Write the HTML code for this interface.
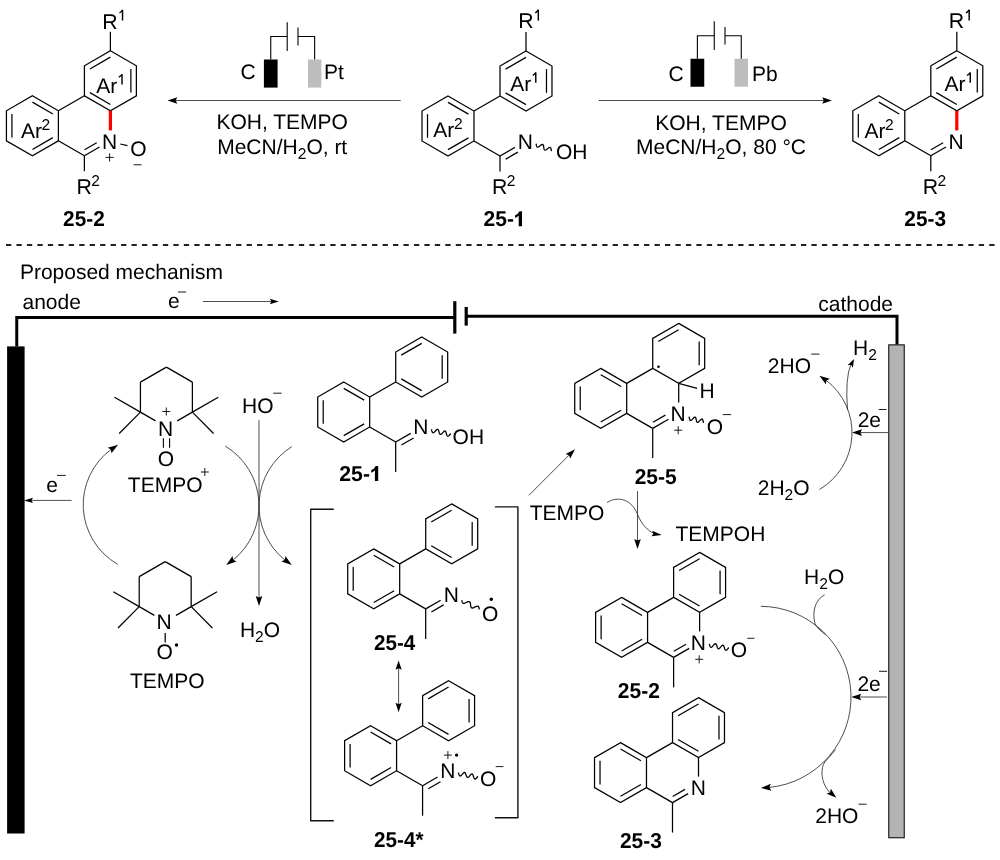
<!DOCTYPE html>
<html><head><meta charset="utf-8"><style>
html,body{margin:0;padding:0;background:#fff;}
svg{display:block;}
text{font-family:"Liberation Sans", sans-serif;text-rendering:geometricPrecision;}
</style></head><body>
<div style="will-change:transform;width:1000px;height:860px"><svg width="1000" height="860" viewBox="0 0 1000 860">
<rect width="1000" height="860" fill="#fff"/>
<polygon points="110.4,50.8 136.38,65.8 136.38,95.8 110.4,110.8 84.42,95.8 84.42,65.8" fill="none" stroke="#000" stroke-width="1.25" stroke-linejoin="miter"/>
<line x1="89.94" y1="68.96" x2="110.38" y2="57.16" stroke="#000" stroke-width="1.25" stroke-linecap="butt"/>
<line x1="130.88" y1="69" x2="130.88" y2="92.6" stroke="#000" stroke-width="1.25" stroke-linecap="butt"/>
<line x1="110.38" y1="104.44" x2="89.94" y2="92.64" stroke="#000" stroke-width="1.25" stroke-linecap="butt"/>
<polygon points="32.4,95.8 58.38,110.8 58.38,140.8 32.4,155.8 6.42,140.8 6.42,110.8" fill="none" stroke="#000" stroke-width="1.25" stroke-linejoin="miter"/>
<line x1="11.92" y1="137.6" x2="11.92" y2="114" stroke="#000" stroke-width="1.25" stroke-linecap="butt"/>
<line x1="32.42" y1="102.16" x2="52.86" y2="113.96" stroke="#000" stroke-width="1.25" stroke-linecap="butt"/>
<line x1="52.86" y1="137.64" x2="32.42" y2="149.44" stroke="#000" stroke-width="1.25" stroke-linecap="butt"/>
<line x1="58.38" y1="110.8" x2="84.42" y2="95.8" stroke="#000" stroke-width="1.25" stroke-linecap="butt"/>
<line x1="58.38" y1="140.8" x2="84.4" y2="155.8" stroke="#000" stroke-width="1.25" stroke-linecap="butt"/>
<line x1="84.4" y1="155.8" x2="99.57" y2="147.05" stroke="#000" stroke-width="1.25" stroke-linecap="butt"/>
<line x1="84.49" y1="149.75" x2="96.71" y2="142.69" stroke="#000" stroke-width="1.25" stroke-linecap="butt"/>
<line x1="110.4" y1="110.8" x2="110.4" y2="130.4" stroke="#ff0000" stroke-width="3.2" stroke-linecap="butt"/>
<line x1="84.4" y1="155.8" x2="84.4" y2="171.2" stroke="#000" stroke-width="1.25" stroke-linecap="butt"/>
<line x1="110.4" y1="50.8" x2="110.4" y2="31.8" stroke="#000" stroke-width="1.25" stroke-linecap="butt"/>
<text x="102.25" y="28.6" font-size="21.3" text-anchor="start" font-weight="normal" fill="#000">R</text>
<line x1="122.53" y1="9.8" x2="122.53" y2="20.5" stroke="#000" stroke-width="1.45" stroke-linecap="butt"/>
<path d="M122.53,10 Q121.33,12 119.5,12.87" fill="none" stroke="#000" stroke-width="1.3775" stroke-linecap="butt"/>
<text x="76.45" y="194" font-size="21.3" text-anchor="start" font-weight="normal" fill="#000">R</text>
<text x="91.22" y="185.79" font-size="15.6" text-anchor="start" font-weight="normal" fill="#000">2</text>
<text x="96.21" y="92.5" font-size="21" text-anchor="start" font-weight="normal" fill="#000">Ar</text>
<line x1="122.03" y1="74.2" x2="122.03" y2="84.5" stroke="#000" stroke-width="1.45" stroke-linecap="butt"/>
<path d="M122.03,74.4 Q120.83,76.31 118.75,77.15" fill="none" stroke="#000" stroke-width="1.3775" stroke-linecap="butt"/>
<text x="20.96" y="138.25" font-size="21" text-anchor="start" font-weight="normal" fill="#000">Ar</text>
<text x="41.47" y="130.14" font-size="15.6" text-anchor="start" font-weight="normal" fill="#000">2</text>
<text x="102.03" y="148.9" font-size="21" text-anchor="start" font-weight="normal" fill="#000">N</text>
<line x1="105.5" y1="157.4" x2="113.7" y2="157.4" stroke="#000" stroke-width="0.9" stroke-linecap="butt"/>
<line x1="109.6" y1="153.3" x2="109.6" y2="161.5" stroke="#000" stroke-width="0.9" stroke-linecap="butt"/>
<line x1="120.25" y1="144" x2="127.5" y2="145.7" stroke="#000" stroke-width="1.25" stroke-linecap="butt"/>
<text x="130.34" y="156" font-size="21" text-anchor="start" font-weight="normal" fill="#000">O</text>
<line x1="133.6" y1="164.8" x2="141.6" y2="164.8" stroke="#000" stroke-width="0.9" stroke-linecap="butt"/>
<text transform="translate(63.08,226.05) scale(0.9680,1)" x="0" y="0" font-size="21.5" font-weight="bold">25-2</text>
<polygon points="526,51 551.98,66 551.98,96 526,111 500.02,96 500.02,66" fill="none" stroke="#000" stroke-width="1.25" stroke-linejoin="miter"/>
<line x1="505.54" y1="69.16" x2="525.98" y2="57.36" stroke="#000" stroke-width="1.25" stroke-linecap="butt"/>
<line x1="546.48" y1="69.2" x2="546.48" y2="92.8" stroke="#000" stroke-width="1.25" stroke-linecap="butt"/>
<line x1="525.98" y1="104.64" x2="505.54" y2="92.84" stroke="#000" stroke-width="1.25" stroke-linecap="butt"/>
<polygon points="448,96 473.98,111 473.98,141 448,156 422.02,141 422.02,111" fill="none" stroke="#000" stroke-width="1.25" stroke-linejoin="miter"/>
<line x1="427.52" y1="137.8" x2="427.52" y2="114.2" stroke="#000" stroke-width="1.25" stroke-linecap="butt"/>
<line x1="448.02" y1="102.36" x2="468.46" y2="114.16" stroke="#000" stroke-width="1.25" stroke-linecap="butt"/>
<line x1="468.46" y1="137.84" x2="448.02" y2="149.64" stroke="#000" stroke-width="1.25" stroke-linecap="butt"/>
<line x1="473.98" y1="111" x2="500.02" y2="96" stroke="#000" stroke-width="1.25" stroke-linecap="butt"/>
<line x1="473.98" y1="141" x2="499.98" y2="156" stroke="#000" stroke-width="1.25" stroke-linecap="butt"/>
<line x1="499.98" y1="156" x2="514.89" y2="147.4" stroke="#000" stroke-width="1.25" stroke-linecap="butt"/>
<line x1="505.72" y1="159.15" x2="517.87" y2="152.15" stroke="#000" stroke-width="1.25" stroke-linecap="butt"/>
<line x1="499.98" y1="156" x2="499.98" y2="171.5" stroke="#000" stroke-width="1.25" stroke-linecap="butt"/>
<line x1="526" y1="51" x2="526" y2="32" stroke="#000" stroke-width="1.25" stroke-linecap="butt"/>
<text x="518.25" y="28.45" font-size="21.3" text-anchor="start" font-weight="normal" fill="#000">R</text>
<line x1="538.32" y1="9.6" x2="538.32" y2="20.6" stroke="#000" stroke-width="1.45" stroke-linecap="butt"/>
<path d="M538.32,9.8 Q537.12,11.86 535.2,12.76" fill="none" stroke="#000" stroke-width="1.3775" stroke-linecap="butt"/>
<text x="492.05" y="194" font-size="21.3" text-anchor="start" font-weight="normal" fill="#000">R</text>
<text x="506.82" y="185.79" font-size="15.6" text-anchor="start" font-weight="normal" fill="#000">2</text>
<text x="510.21" y="91" font-size="21" text-anchor="start" font-weight="normal" fill="#000">Ar</text>
<line x1="535.77" y1="72.45" x2="535.77" y2="82.75" stroke="#000" stroke-width="1.45" stroke-linecap="butt"/>
<path d="M535.77,72.65 Q534.57,74.56 532.75,75.4" fill="none" stroke="#000" stroke-width="1.3775" stroke-linecap="butt"/>
<text x="433.21" y="136.75" font-size="21" text-anchor="start" font-weight="normal" fill="#000">Ar</text>
<text x="453.97" y="128.64" font-size="15.6" text-anchor="start" font-weight="normal" fill="#000">2</text>
<text x="517.78" y="148.5" font-size="21" text-anchor="start" font-weight="normal" fill="#000">N</text>
<path d="M536.2,144.18 L536.28,144.71 L536.37,145.23 L536.48,145.72 L536.6,146.16 L536.75,146.53 L536.93,146.82 L537.14,147.03 L537.39,147.14 L537.67,147.17 L537.99,147.1 L538.35,146.95 L538.72,146.74 L539.13,146.47 L539.54,146.15 L539.97,145.82 L540.39,145.49 L540.81,145.17 L541.21,144.9 L541.59,144.67 L541.95,144.52 L542.27,144.45 L542.56,144.46 L542.81,144.57 L543.03,144.76 L543.21,145.05 L543.36,145.41 L543.49,145.84 L543.59,146.33 L543.68,146.85 L543.77,147.38 L543.86,147.91 L543.95,148.42 L544.06,148.88 L544.2,149.29 L544.36,149.63 L544.55,149.88 L544.78,150.05 L545.05,150.12 L545.35,150.1 L545.69,150 L546.05,149.81 L546.44,149.57 L546.85,149.28 L547.27,148.95 L547.7,148.62 L548.12,148.29 L548.53,147.99 L548.92,147.74 L549.29,147.55 L549.63,147.43 L549.94,147.4 L550.21,147.45 L550.45,147.6 L550.65,147.84 L550.82,148.16 L550.96,148.56 L551.07,149.02 L551.17,149.52 L551.26,150.05 L551.34,150.58" fill="none" stroke="#000" stroke-width="1.3" stroke-linecap="round" stroke-linejoin="round"/>
<text x="556.01" y="159.3" font-size="21" text-anchor="start" font-weight="normal" fill="#000">OH</text>
<text transform="translate(483.52,226.15) scale(0.9772,1)" x="0" y="0" font-size="21.5" font-weight="bold">25-</text>
<path d="M518.7,226.25 L522,226.25 L522,211.25 L519.52,211.25 Q518.1,214.25 515.16,215.3 L515.16,218 Q517.2,216.95 518.7,215.45 Z" fill="#000"/>
<polygon points="956.8,50.8 982.78,65.8 982.78,95.8 956.8,110.8 930.82,95.8 930.82,65.8" fill="none" stroke="#000" stroke-width="1.25" stroke-linejoin="miter"/>
<line x1="936.34" y1="68.96" x2="956.78" y2="57.16" stroke="#000" stroke-width="1.25" stroke-linecap="butt"/>
<line x1="977.28" y1="69" x2="977.28" y2="92.6" stroke="#000" stroke-width="1.25" stroke-linecap="butt"/>
<line x1="956.78" y1="104.44" x2="936.34" y2="92.64" stroke="#000" stroke-width="1.25" stroke-linecap="butt"/>
<polygon points="878.8,95.8 904.78,110.8 904.78,140.8 878.8,155.8 852.82,140.8 852.82,110.8" fill="none" stroke="#000" stroke-width="1.25" stroke-linejoin="miter"/>
<line x1="858.32" y1="137.6" x2="858.32" y2="114" stroke="#000" stroke-width="1.25" stroke-linecap="butt"/>
<line x1="878.82" y1="102.16" x2="899.26" y2="113.96" stroke="#000" stroke-width="1.25" stroke-linecap="butt"/>
<line x1="899.26" y1="137.64" x2="878.82" y2="149.44" stroke="#000" stroke-width="1.25" stroke-linecap="butt"/>
<line x1="904.78" y1="110.8" x2="930.82" y2="95.8" stroke="#000" stroke-width="1.25" stroke-linecap="butt"/>
<line x1="904.78" y1="140.8" x2="930.8" y2="155.8" stroke="#000" stroke-width="1.25" stroke-linecap="butt"/>
<line x1="930.8" y1="155.8" x2="945.97" y2="147.05" stroke="#000" stroke-width="1.25" stroke-linecap="butt"/>
<line x1="930.89" y1="149.75" x2="943.11" y2="142.69" stroke="#000" stroke-width="1.25" stroke-linecap="butt"/>
<line x1="956.8" y1="110.8" x2="956.8" y2="130.4" stroke="#ff0000" stroke-width="3.2" stroke-linecap="butt"/>
<line x1="930.8" y1="155.8" x2="930.8" y2="171.2" stroke="#000" stroke-width="1.25" stroke-linecap="butt"/>
<line x1="956.8" y1="50.8" x2="956.8" y2="31.8" stroke="#000" stroke-width="1.25" stroke-linecap="butt"/>
<text x="948.65" y="28.45" font-size="21.3" text-anchor="start" font-weight="normal" fill="#000">R</text>
<line x1="969.17" y1="9.7" x2="969.17" y2="20.4" stroke="#000" stroke-width="1.45" stroke-linecap="butt"/>
<path d="M969.17,9.9 Q967.97,11.9 965.9,12.77" fill="none" stroke="#000" stroke-width="1.3775" stroke-linecap="butt"/>
<text x="922.85" y="194" font-size="21.3" text-anchor="start" font-weight="normal" fill="#000">R</text>
<text x="937.62" y="185.79" font-size="15.6" text-anchor="start" font-weight="normal" fill="#000">2</text>
<text x="944.46" y="91" font-size="21" text-anchor="start" font-weight="normal" fill="#000">Ar</text>
<line x1="970.27" y1="72.45" x2="970.27" y2="82.75" stroke="#000" stroke-width="1.45" stroke-linecap="butt"/>
<path d="M970.27,72.65 Q969.07,74.56 967,75.4" fill="none" stroke="#000" stroke-width="1.3775" stroke-linecap="butt"/>
<text x="864.56" y="138.15" font-size="21" text-anchor="start" font-weight="normal" fill="#000">Ar</text>
<text x="885.12" y="130.14" font-size="15.6" text-anchor="start" font-weight="normal" fill="#000">2</text>
<text x="948.48" y="148.6" font-size="21" text-anchor="start" font-weight="normal" fill="#000">N</text>
<text transform="translate(904.32,226.15) scale(0.9675,1)" x="0" y="0" font-size="21.5" font-weight="bold">25-3</text>
<line x1="400.7" y1="100.5" x2="175.2" y2="100.5" stroke="#3a3a3a" stroke-width="0.9" stroke-linecap="butt"/>
<polygon points="167.5,100.5 177.3,97.3 175.7,100.5 177.3,103.7" fill="#000"/>
<line x1="598.7" y1="100.5" x2="824.3" y2="100.5" stroke="#3a3a3a" stroke-width="0.9" stroke-linecap="butt"/>
<polygon points="832,100.5 822.2,103.7 823.8,100.5 822.2,97.3" fill="#000"/>
<rect x="263.9" y="59.5" width="13.7" height="28.1" fill="#000"/>
<rect x="308" y="59.5" width="13.3" height="28.1" fill="#bdbdbd"/>
<polyline points="270.75,59.5 270.75,36.5 287.2,36.5" fill="none" stroke="#000" stroke-width="1.1" stroke-linejoin="miter"/>
<line x1="287.2" y1="22.3" x2="287.2" y2="51.1" stroke="#000" stroke-width="1.1" stroke-linecap="butt"/>
<line x1="298" y1="27.6" x2="298" y2="45.6" stroke="#000" stroke-width="1.1" stroke-linecap="butt"/>
<polyline points="298,36.5 314.65,36.5 314.65,59.5" fill="none" stroke="#000" stroke-width="1.1" stroke-linejoin="miter"/>
<text x="240.53" y="79.2" font-size="21" text-anchor="start" font-weight="normal" fill="#000">C</text>
<text x="323.88" y="79.2" font-size="21" text-anchor="start" font-weight="normal" fill="#000">Pt</text>
<rect x="690.5" y="58.75" width="13.75" height="28" fill="#000"/>
<rect x="734.5" y="58.75" width="13.5" height="28" fill="#bdbdbd"/>
<polyline points="697.38,58.75 697.38,35.75 714.25,35.75" fill="none" stroke="#000" stroke-width="1.1" stroke-linejoin="miter"/>
<line x1="714.25" y1="21.25" x2="714.25" y2="50" stroke="#000" stroke-width="1.1" stroke-linecap="butt"/>
<line x1="725" y1="27" x2="725" y2="44.5" stroke="#000" stroke-width="1.1" stroke-linecap="butt"/>
<polyline points="725,35.75 741.25,35.75 741.25,58.75" fill="none" stroke="#000" stroke-width="1.1" stroke-linejoin="miter"/>
<text x="668.43" y="80.5" font-size="21" text-anchor="start" font-weight="normal" fill="#000">C</text>
<text x="752.03" y="80.5" font-size="21" text-anchor="start" font-weight="normal" fill="#000">Pb</text>
<text x="282.2" y="129" font-size="21" text-anchor="middle" font-weight="normal" fill="#000">KOH, TEMPO</text>
<text x="282.2" y="153.6" font-size="21" text-anchor="middle" font-weight="normal" fill="#000">MeCN/H<tspan font-size="15.6" dy="5">2</tspan><tspan dy="-5">O, rt</tspan></text>
<text x="721" y="129.5" font-size="21" text-anchor="middle" font-weight="normal" fill="#000">KOH, TEMPO</text>
<text x="721" y="154" font-size="21" text-anchor="middle" font-weight="normal" fill="#000">MeCN/H<tspan font-size="15.6" dy="5">2</tspan><tspan dy="-5">O, 80 °C</tspan></text>
<line x1="6" y1="245" x2="995" y2="245" stroke="#222" stroke-width="1.9" stroke-dasharray="5.3 5.16"/>
<text x="19.88" y="279.4" font-size="21" text-anchor="start" font-weight="normal" fill="#000">Proposed mechanism</text>
<text x="22.51" y="309.4" font-size="21" text-anchor="start" font-weight="normal" fill="#000">anode</text>
<text x="168.01" y="308.3" font-size="21" text-anchor="start" font-weight="normal" fill="#000">e</text>
<line x1="178" y1="292" x2="186.1" y2="292" stroke="#000" stroke-width="0.9" stroke-linecap="butt"/>
<line x1="202.9" y1="301.5" x2="271.9" y2="301.5" stroke="#3a3a3a" stroke-width="0.9" stroke-linecap="butt"/>
<polygon points="278.8,301.5 269.8,304.3 271.4,301.5 269.8,298.7" fill="#000"/>
<text x="818.31" y="310.8" font-size="21" text-anchor="start" font-weight="normal" fill="#000">cathode</text>
<polyline points="16.75,346.6 16.75,317.5 454.8,317.5" fill="none" stroke="#000" stroke-width="3" stroke-linejoin="miter"/>
<line x1="454.8" y1="301.2" x2="454.8" y2="333.6" stroke="#000" stroke-width="3.2" stroke-linecap="butt"/>
<line x1="466.2" y1="307" x2="466.2" y2="325.6" stroke="#000" stroke-width="3.2" stroke-linecap="butt"/>
<polyline points="466.2,316.2 897,316.2 897,344.5" fill="none" stroke="#000" stroke-width="3" stroke-linejoin="miter"/>
<rect x="7.1" y="346.4" width="17.5" height="487.1" fill="#000"/>
<rect x="888.75" y="344.85" width="15.5" height="492.9" fill="#b3b3b3" stroke="#111" stroke-width="1.1"/>
<line x1="140.42" y1="382.1" x2="166.4" y2="367.1" stroke="#000" stroke-width="1.25" stroke-linecap="butt"/>
<line x1="166.4" y1="367.1" x2="192.38" y2="382.1" stroke="#000" stroke-width="1.25" stroke-linecap="butt"/>
<line x1="192.38" y1="382.1" x2="192.38" y2="412.1" stroke="#000" stroke-width="1.25" stroke-linecap="butt"/>
<line x1="140.42" y1="412.1" x2="140.42" y2="382.1" stroke="#000" stroke-width="1.25" stroke-linecap="butt"/>
<line x1="192.38" y1="412.1" x2="177.23" y2="420.85" stroke="#000" stroke-width="1.25" stroke-linecap="butt"/>
<line x1="140.42" y1="412.1" x2="155.57" y2="420.85" stroke="#000" stroke-width="1.25" stroke-linecap="butt"/>
<line x1="192.38" y1="412.1" x2="218.28" y2="397.3" stroke="#000" stroke-width="1.25" stroke-linecap="butt"/>
<line x1="192.38" y1="412.1" x2="213.58" y2="433.5" stroke="#000" stroke-width="1.25" stroke-linecap="butt"/>
<line x1="140.42" y1="412.1" x2="114.52" y2="397.3" stroke="#000" stroke-width="1.25" stroke-linecap="butt"/>
<line x1="140.42" y1="412.1" x2="119.22" y2="433.5" stroke="#000" stroke-width="1.25" stroke-linecap="butt"/>
<text x="158.08" y="435.6" font-size="21" text-anchor="start" font-weight="normal" fill="#000">N</text>
<line x1="162.3" y1="411.5" x2="170.3" y2="411.5" stroke="#000" stroke-width="0.9" stroke-linecap="butt"/>
<line x1="166.3" y1="407.5" x2="166.3" y2="415.5" stroke="#000" stroke-width="0.9" stroke-linecap="butt"/>
<line x1="163.4" y1="438.3" x2="163.4" y2="447.8" stroke="#000" stroke-width="1.1" stroke-linecap="butt"/>
<line x1="169.6" y1="438.3" x2="169.6" y2="447.8" stroke="#000" stroke-width="1.1" stroke-linecap="butt"/>
<text x="157.71" y="465.5" font-size="21" text-anchor="start" font-weight="normal" fill="#000">O</text>
<text x="127.83" y="491.7" font-size="21" text-anchor="start" font-weight="normal" fill="#000">TEMPO</text>
<line x1="200.8" y1="472" x2="208.8" y2="472" stroke="#000" stroke-width="0.9" stroke-linecap="butt"/>
<line x1="204.8" y1="468" x2="204.8" y2="476" stroke="#000" stroke-width="0.9" stroke-linecap="butt"/>
<line x1="139.22" y1="576.6" x2="165.2" y2="561.6" stroke="#000" stroke-width="1.25" stroke-linecap="butt"/>
<line x1="165.2" y1="561.6" x2="191.18" y2="576.6" stroke="#000" stroke-width="1.25" stroke-linecap="butt"/>
<line x1="191.18" y1="576.6" x2="191.18" y2="606.6" stroke="#000" stroke-width="1.25" stroke-linecap="butt"/>
<line x1="139.22" y1="606.6" x2="139.22" y2="576.6" stroke="#000" stroke-width="1.25" stroke-linecap="butt"/>
<line x1="191.18" y1="606.6" x2="176.03" y2="615.35" stroke="#000" stroke-width="1.25" stroke-linecap="butt"/>
<line x1="139.22" y1="606.6" x2="154.37" y2="615.35" stroke="#000" stroke-width="1.25" stroke-linecap="butt"/>
<line x1="191.18" y1="606.6" x2="217.08" y2="591.8" stroke="#000" stroke-width="1.25" stroke-linecap="butt"/>
<line x1="191.18" y1="606.6" x2="212.38" y2="628" stroke="#000" stroke-width="1.25" stroke-linecap="butt"/>
<line x1="139.22" y1="606.6" x2="113.32" y2="591.8" stroke="#000" stroke-width="1.25" stroke-linecap="butt"/>
<line x1="139.22" y1="606.6" x2="118.02" y2="628" stroke="#000" stroke-width="1.25" stroke-linecap="butt"/>
<text x="156.48" y="629.4" font-size="21" text-anchor="start" font-weight="normal" fill="#000">N</text>
<line x1="165.2" y1="633" x2="165.2" y2="642.4" stroke="#000" stroke-width="1.25" stroke-linecap="butt"/>
<text x="156.61" y="659.4" font-size="21" text-anchor="start" font-weight="normal" fill="#000">O</text>
<circle cx="176.5" cy="645" r="1.7" fill="#000"/>
<text x="130.03" y="687.5" font-size="21" text-anchor="start" font-weight="normal" fill="#000">TEMPO</text>
<text x="46.31" y="492.2" font-size="21" text-anchor="start" font-weight="normal" fill="#000">e</text>
<line x1="57" y1="475.4" x2="65.8" y2="475.4" stroke="#000" stroke-width="0.9" stroke-linecap="butt"/>
<line x1="71.6" y1="500.4" x2="30.9" y2="500.4" stroke="#3a3a3a" stroke-width="0.9" stroke-linecap="butt"/>
<polygon points="24,500.4 33,497.7 31.4,500.4 33,503.1" fill="#000"/>
<path d="M117.6,564.28 A68.8,68.8 0 0 1 111.16,449.33" fill="none" stroke="#3a3a3a" stroke-width="0.9"/>
<polygon points="118.12,444.82 111.45,453.37 110.97,449.6 107.67,447.72" fill="#000"/>
<path d="M225.2,446.06 A69.7,69.7 0 0 1 233,560.1" fill="none" stroke="#3a3a3a" stroke-width="0.9"/>
<polygon points="226.24,564.91 232.53,556.08 233.17,559.83 236.55,561.56" fill="#000"/>
<path d="M291.76,446.69 A69.7,69.7 0 0 0 285,560.1" fill="none" stroke="#3a3a3a" stroke-width="0.9"/>
<polygon points="291.76,564.91 281.45,561.56 284.83,559.83 285.47,556.08" fill="#000"/>
<line x1="259" y1="420.2" x2="259" y2="598.1" stroke="#3a3a3a" stroke-width="0.9" stroke-linecap="butt"/>
<polygon points="259,606 255.7,596 259,597.6 262.3,596" fill="#000"/>
<text x="242.08" y="412.6" font-size="21" text-anchor="start" font-weight="normal" fill="#000">HO</text>
<line x1="273.2" y1="393.2" x2="281.6" y2="393.2" stroke="#000" stroke-width="0.9" stroke-linecap="butt"/>
<text x="239.88" y="637.1" font-size="21" text-anchor="start" font-weight="normal" fill="#000">H<tspan font-size="15.6" dy="5">2</tspan><tspan dy="-5">O</tspan></text>
<polygon points="421.7,337 447.68,352 447.68,382 421.7,397 395.72,382 395.72,352" fill="none" stroke="#000" stroke-width="1.25" stroke-linejoin="miter"/>
<line x1="401.24" y1="355.16" x2="421.68" y2="343.36" stroke="#000" stroke-width="1.25" stroke-linecap="butt"/>
<line x1="442.18" y1="355.2" x2="442.18" y2="378.8" stroke="#000" stroke-width="1.25" stroke-linecap="butt"/>
<line x1="421.68" y1="390.64" x2="401.24" y2="378.84" stroke="#000" stroke-width="1.25" stroke-linecap="butt"/>
<polygon points="343.7,382 369.68,397 369.68,427 343.7,442 317.72,427 317.72,397" fill="none" stroke="#000" stroke-width="1.25" stroke-linejoin="miter"/>
<line x1="323.22" y1="423.8" x2="323.22" y2="400.2" stroke="#000" stroke-width="1.25" stroke-linecap="butt"/>
<line x1="343.72" y1="388.36" x2="364.16" y2="400.16" stroke="#000" stroke-width="1.25" stroke-linecap="butt"/>
<line x1="364.16" y1="423.84" x2="343.72" y2="435.64" stroke="#000" stroke-width="1.25" stroke-linecap="butt"/>
<line x1="369.68" y1="397" x2="395.72" y2="382" stroke="#000" stroke-width="1.25" stroke-linecap="butt"/>
<line x1="369.68" y1="427" x2="395.68" y2="442" stroke="#000" stroke-width="1.25" stroke-linecap="butt"/>
<line x1="395.68" y1="442" x2="395.68" y2="472" stroke="#000" stroke-width="1.25" stroke-linecap="butt"/>
<line x1="395.68" y1="442" x2="410.68" y2="433.35" stroke="#000" stroke-width="1.25" stroke-linecap="butt"/>
<line x1="401.37" y1="445.06" x2="413.6" y2="438.01" stroke="#000" stroke-width="1.25" stroke-linecap="butt"/>
<text x="413.28" y="434" font-size="21" text-anchor="start" font-weight="normal" fill="#000">N</text>
<path d="M431.54,429.77 L431.72,430.42 L431.91,431.05 L432.1,431.63 L432.32,432.12 L432.57,432.48 L432.85,432.71 L433.17,432.78 L433.52,432.7 L433.9,432.48 L434.31,432.13 L434.74,431.7 L435.19,431.21 L435.63,430.71 L436.07,430.24 L436.5,429.83 L436.9,429.52 L437.27,429.34 L437.61,429.31 L437.92,429.44 L438.18,429.71 L438.42,430.12 L438.63,430.64 L438.83,431.24 L439.01,431.89 L439.19,432.53 L439.39,433.13 L439.6,433.65 L439.84,434.06 L440.1,434.34 L440.41,434.47 L440.75,434.44 L441.12,434.26 L441.52,433.96 L441.94,433.55 L442.38,433.08 L442.83,432.58 L443.28,432.09 L443.71,431.65 L444.12,431.31 L444.5,431.08 L444.85,431 L445.17,431.07 L445.45,431.29 L445.7,431.66 L445.92,432.14 L446.12,432.72 L446.3,433.35 L446.49,434 L446.67,434.62 L446.88,435.17 L447.11,435.63 L447.36,435.95 L447.65,436.13 L447.98,436.16 L448.34,436.03 L448.73,435.77 L449.15,435.4 L449.58,434.94 L450.03,434.45 L450.48,433.95" fill="none" stroke="#000" stroke-width="1.3" stroke-linecap="round" stroke-linejoin="round"/>
<text x="452.61" y="443.8" font-size="21" text-anchor="start" font-weight="normal" fill="#000">OH</text>
<text transform="translate(339.3,480.9) scale(0.9879,1)" x="0" y="0" font-size="21.5" font-weight="bold">25-</text>
<path d="M374.9,481 L378.2,481 L378.2,466 L375.72,466 Q374.3,469 371.28,470.05 L371.28,472.75 Q373.4,471.7 374.9,470.2 Z" fill="#000"/>
<polyline points="333.3,509.2 310.7,509.2 310.7,820.7 333.3,820.7" fill="none" stroke="#111" stroke-width="1.4" stroke-linejoin="round" stroke-linecap="round"/>
<polyline points="495.4,506.9 517.9,506.9 517.9,817.8 495.4,817.8" fill="none" stroke="#111" stroke-width="1.4" stroke-linejoin="round" stroke-linecap="round"/>
<polygon points="451.7,503.9 477.68,518.9 477.68,548.9 451.7,563.9 425.72,548.9 425.72,518.9" fill="none" stroke="#000" stroke-width="1.25" stroke-linejoin="miter"/>
<line x1="431.24" y1="522.06" x2="451.68" y2="510.26" stroke="#000" stroke-width="1.25" stroke-linecap="butt"/>
<line x1="472.18" y1="522.1" x2="472.18" y2="545.7" stroke="#000" stroke-width="1.25" stroke-linecap="butt"/>
<line x1="451.68" y1="557.54" x2="431.24" y2="545.74" stroke="#000" stroke-width="1.25" stroke-linecap="butt"/>
<polygon points="373.7,548.9 399.68,563.9 399.68,593.9 373.7,608.9 347.72,593.9 347.72,563.9" fill="none" stroke="#000" stroke-width="1.25" stroke-linejoin="miter"/>
<line x1="353.22" y1="590.7" x2="353.22" y2="567.1" stroke="#000" stroke-width="1.25" stroke-linecap="butt"/>
<line x1="373.72" y1="555.26" x2="394.16" y2="567.06" stroke="#000" stroke-width="1.25" stroke-linecap="butt"/>
<line x1="394.16" y1="590.74" x2="373.72" y2="602.54" stroke="#000" stroke-width="1.25" stroke-linecap="butt"/>
<line x1="399.68" y1="563.9" x2="425.72" y2="548.9" stroke="#000" stroke-width="1.25" stroke-linecap="butt"/>
<line x1="399.68" y1="593.9" x2="425.68" y2="608.9" stroke="#000" stroke-width="1.25" stroke-linecap="butt"/>
<line x1="425.68" y1="608.9" x2="425.68" y2="638.9" stroke="#000" stroke-width="1.25" stroke-linecap="butt"/>
<line x1="425.68" y1="608.9" x2="440.68" y2="600.25" stroke="#000" stroke-width="1.25" stroke-linecap="butt"/>
<line x1="431.37" y1="611.96" x2="443.6" y2="604.91" stroke="#000" stroke-width="1.25" stroke-linecap="butt"/>
<text x="443.78" y="601.75" font-size="21" text-anchor="start" font-weight="normal" fill="#000">N</text>
<path d="M461.96,600.74 L462.04,601.26 L462.14,601.75 L462.27,602.19 L462.42,602.57 L462.62,602.89 L462.85,603.12 L463.12,603.28 L463.44,603.36 L463.8,603.37 L464.2,603.3 L464.63,603.17 L465.08,602.99 L465.56,602.78 L466.05,602.54 L466.54,602.3 L467.02,602.06 L467.49,601.86 L467.94,601.69 L468.36,601.58 L468.75,601.53 L469.09,601.56 L469.4,601.66 L469.66,601.84 L469.88,602.1 L470.06,602.44 L470.21,602.84 L470.33,603.29 L470.42,603.79 L470.5,604.32 L470.57,604.86 L470.64,605.4 L470.72,605.92 L470.82,606.41 L470.94,606.85 L471.1,607.23 L471.29,607.54 L471.53,607.78 L471.8,607.93 L472.12,608.01 L472.48,608.01 L472.88,607.94 L473.31,607.81 L473.77,607.63 L474.24,607.42 L474.73,607.18 L475.22,606.94 L475.71,606.71 L476.18,606.5 L476.62,606.34 L477.04,606.23 L477.43,606.18 L477.77,606.21 L478.08,606.31 L478.34,606.49 L478.56,606.76 L478.74,607.09 L478.89,607.49 L479,607.95 L479.09,608.45 L479.17,608.98" fill="none" stroke="#000" stroke-width="1.3" stroke-linecap="round" stroke-linejoin="round"/>
<text x="481.91" y="620.6" font-size="21" text-anchor="start" font-weight="normal" fill="#000">O</text>
<circle cx="491.3" cy="599.2" r="1.7" fill="#000"/>
<text transform="translate(373.98,650.05) scale(0.9604,1)" x="0" y="0" font-size="21.5" font-weight="bold">25-4</text>
<line x1="398.6" y1="668" x2="398.6" y2="705" stroke="#3a3a3a" stroke-width="0.9" stroke-linecap="butt"/>
<polygon points="398.6,660.4 401.7,669.8 398.6,668.3 395.5,669.8" fill="#000"/>
<polygon points="398.6,712.2 395.5,702.8 398.6,704.3 401.7,702.8" fill="#000"/>
<polygon points="448.6,680.7 474.58,695.7 474.58,725.7 448.6,740.7 422.62,725.7 422.62,695.7" fill="none" stroke="#000" stroke-width="1.25" stroke-linejoin="miter"/>
<line x1="428.14" y1="698.86" x2="448.58" y2="687.06" stroke="#000" stroke-width="1.25" stroke-linecap="butt"/>
<line x1="469.08" y1="698.9" x2="469.08" y2="722.5" stroke="#000" stroke-width="1.25" stroke-linecap="butt"/>
<line x1="448.58" y1="734.34" x2="428.14" y2="722.54" stroke="#000" stroke-width="1.25" stroke-linecap="butt"/>
<polygon points="370.6,725.7 396.58,740.7 396.58,770.7 370.6,785.7 344.62,770.7 344.62,740.7" fill="none" stroke="#000" stroke-width="1.25" stroke-linejoin="miter"/>
<line x1="350.12" y1="767.5" x2="350.12" y2="743.9" stroke="#000" stroke-width="1.25" stroke-linecap="butt"/>
<line x1="370.62" y1="732.06" x2="391.06" y2="743.86" stroke="#000" stroke-width="1.25" stroke-linecap="butt"/>
<line x1="391.06" y1="767.54" x2="370.62" y2="779.34" stroke="#000" stroke-width="1.25" stroke-linecap="butt"/>
<line x1="396.58" y1="740.7" x2="422.62" y2="725.7" stroke="#000" stroke-width="1.25" stroke-linecap="butt"/>
<line x1="396.58" y1="770.7" x2="422.58" y2="785.7" stroke="#000" stroke-width="1.25" stroke-linecap="butt"/>
<line x1="422.58" y1="785.7" x2="422.58" y2="815.7" stroke="#000" stroke-width="1.25" stroke-linecap="butt"/>
<line x1="422.58" y1="785.7" x2="437.58" y2="777.05" stroke="#000" stroke-width="1.25" stroke-linecap="butt"/>
<line x1="428.27" y1="788.76" x2="440.5" y2="781.71" stroke="#000" stroke-width="1.25" stroke-linecap="butt"/>
<text x="440.28" y="778.1" font-size="21" text-anchor="start" font-weight="normal" fill="#000">N</text>
<line x1="443.9" y1="755.1" x2="451.9" y2="755.1" stroke="#000" stroke-width="0.9" stroke-linecap="butt"/>
<line x1="447.9" y1="751.1" x2="447.9" y2="759.1" stroke="#000" stroke-width="0.9" stroke-linecap="butt"/>
<circle cx="456.6" cy="755.1" r="1.7" fill="#000"/>
<path d="M458.53,773.03 L458.72,773.67 L458.93,774.3 L459.14,774.87 L459.37,775.35 L459.63,775.71 L459.92,775.93 L460.24,775.99 L460.59,775.9 L460.96,775.66 L461.37,775.31 L461.79,774.86 L462.22,774.37 L462.66,773.85 L463.09,773.37 L463.5,772.95 L463.9,772.64 L464.27,772.45 L464.61,772.42 L464.91,772.53 L465.19,772.8 L465.44,773.21 L465.66,773.72 L465.87,774.32 L466.07,774.96 L466.27,775.6 L466.48,776.19 L466.7,776.71 L466.95,777.12 L467.23,777.38 L467.53,777.5 L467.87,777.47 L468.24,777.28 L468.64,776.97 L469.05,776.55 L469.48,776.07 L469.92,775.56 L470.35,775.06 L470.77,774.61 L471.18,774.26 L471.55,774.02 L471.9,773.93 L472.22,773.99 L472.51,774.21 L472.77,774.56 L473,775.04 L473.21,775.61 L473.42,776.24 L473.62,776.88 L473.82,777.5 L474.04,778.05 L474.28,778.5 L474.54,778.82 L474.84,779 L475.16,779.02 L475.52,778.89 L475.91,778.62 L476.32,778.24 L476.74,777.77 L477.18,777.27 L477.61,776.76" fill="none" stroke="#000" stroke-width="1.3" stroke-linecap="round" stroke-linejoin="round"/>
<text x="480.11" y="786.1" font-size="21" text-anchor="start" font-weight="normal" fill="#000">O</text>
<line x1="495.7" y1="766.6" x2="503.4" y2="766.6" stroke="#000" stroke-width="0.9" stroke-linecap="butt"/>
<text transform="translate(374.08,846.65) scale(0.9618,1)" x="0" y="0" font-size="21.5" font-weight="bold">25-4*</text>
<line x1="528.8" y1="495.4" x2="569.41" y2="454.79" stroke="#3a3a3a" stroke-width="0.9" stroke-linecap="butt"/>
<polygon points="575,449.2 570.26,458.6 569.06,455.14 565.6,453.94" fill="#000"/>
<polygon points="600.7,368.4 626.68,383.4 626.68,413.4 600.7,428.4 574.72,413.4 574.72,383.4" fill="none" stroke="#000" stroke-width="1.25" stroke-linejoin="miter"/>
<line x1="580.22" y1="410.2" x2="580.22" y2="386.6" stroke="#000" stroke-width="1.25" stroke-linecap="butt"/>
<line x1="600.72" y1="374.76" x2="621.16" y2="386.56" stroke="#000" stroke-width="1.25" stroke-linecap="butt"/>
<line x1="621.16" y1="410.24" x2="600.72" y2="422.04" stroke="#000" stroke-width="1.25" stroke-linecap="butt"/>
<polygon points="678.7,323.4 704.68,338.4 704.68,368.4 678.7,383.4 652.72,368.4 652.72,338.4" fill="none" stroke="#000" stroke-width="1.25" stroke-linejoin="miter"/>
<line x1="658.24" y1="341.56" x2="678.68" y2="329.76" stroke="#000" stroke-width="1.25" stroke-linecap="butt"/>
<line x1="699.18" y1="341.6" x2="699.18" y2="365.2" stroke="#000" stroke-width="1.25" stroke-linecap="butt"/>
<line x1="626.68" y1="383.4" x2="652.72" y2="368.4" stroke="#000" stroke-width="1.25" stroke-linecap="butt"/>
<line x1="626.68" y1="413.4" x2="652.7" y2="428.4" stroke="#000" stroke-width="1.25" stroke-linecap="butt"/>
<line x1="652.7" y1="428.4" x2="668.48" y2="419.3" stroke="#000" stroke-width="1.25" stroke-linecap="butt"/>
<line x1="652.96" y1="422.25" x2="665.36" y2="415.09" stroke="#000" stroke-width="1.25" stroke-linecap="butt"/>
<line x1="678.7" y1="383.4" x2="678.7" y2="402.4" stroke="#000" stroke-width="1.25" stroke-linecap="butt"/>
<line x1="678.7" y1="383.4" x2="697.1" y2="388.3" stroke="#000" stroke-width="1.25" stroke-linecap="butt"/>
<circle cx="658.5" cy="366.7" r="1.3" fill="#000"/>
<text x="699.48" y="398.4" font-size="21" text-anchor="start" font-weight="normal" fill="#000">H</text>
<text x="670.48" y="421.1" font-size="21" text-anchor="start" font-weight="normal" fill="#000">N</text>
<line x1="674.2" y1="430.2" x2="682.2" y2="430.2" stroke="#000" stroke-width="0.9" stroke-linecap="butt"/>
<line x1="678.2" y1="426.2" x2="678.2" y2="434.2" stroke="#000" stroke-width="0.9" stroke-linecap="butt"/>
<path d="M689.15,417.21 L689.26,417.74 L689.38,418.27 L689.5,418.78 L689.63,419.25 L689.78,419.67 L689.95,420 L690.15,420.25 L690.37,420.4 L690.62,420.45 L690.89,420.4 L691.19,420.25 L691.52,420.02 L691.86,419.72 L692.22,419.36 L692.59,418.97 L692.96,418.58 L693.33,418.19 L693.68,417.84 L694.03,417.54 L694.35,417.31 L694.65,417.16 L694.93,417.12 L695.18,417.17 L695.4,417.32 L695.59,417.57 L695.76,417.91 L695.91,418.33 L696.04,418.8 L696.16,419.31 L696.27,419.84 L696.39,420.37 L696.52,420.87 L696.65,421.32 L696.81,421.71 L696.99,422.01 L697.19,422.22 L697.42,422.34 L697.68,422.35 L697.97,422.26 L698.28,422.08 L698.61,421.83 L698.96,421.5 L699.32,421.13 L699.69,420.74 L700.06,420.34 L700.43,419.97 L700.78,419.63 L701.12,419.35 L701.43,419.15 L701.73,419.04 L701.99,419.03 L702.23,419.12 L702.44,419.31 L702.62,419.59 L702.78,419.96 L702.92,420.4 L703.05,420.89 L703.17,421.41 L703.29,421.94 L703.4,422.46" fill="none" stroke="#000" stroke-width="1.3" stroke-linecap="round" stroke-linejoin="round"/>
<text x="706.71" y="433.5" font-size="21" text-anchor="start" font-weight="normal" fill="#000">O</text>
<line x1="722.8" y1="414.6" x2="731.1" y2="414.6" stroke="#000" stroke-width="0.9" stroke-linecap="butt"/>
<line x1="652.7" y1="428.4" x2="652.7" y2="458" stroke="#000" stroke-width="1.25" stroke-linecap="butt"/>
<text transform="translate(634.67,483.95) scale(0.9739,1)" x="0" y="0" font-size="21.5" font-weight="bold">25-5</text>
<text x="529.73" y="520" font-size="21" text-anchor="start" font-weight="normal" fill="#000">TEMPO</text>
<line x1="637.5" y1="491.2" x2="637.5" y2="541.1" stroke="#3a3a3a" stroke-width="0.9" stroke-linecap="butt"/>
<polygon points="637.5,549 634.2,539 637.5,540.6 640.8,539" fill="#000"/>
<path d="M607,502.5 C619,495.3 632,500 637.5,514.3 C641.5,524.5 648,531 654,533.3" fill="none" stroke="#3a3a3a" stroke-width="0.9"/>
<polygon points="661.8,535 651.5,536.29 653.39,533.74 652.33,530.75" fill="#000"/>
<text x="675.53" y="541.1" font-size="21" text-anchor="start" font-weight="normal" fill="#000">TEMPOH</text>
<polygon points="621.6,597.4 647.58,612.4 647.58,642.4 621.6,657.4 595.62,642.4 595.62,612.4" fill="none" stroke="#000" stroke-width="1.25" stroke-linejoin="miter"/>
<line x1="601.12" y1="639.2" x2="601.12" y2="615.6" stroke="#000" stroke-width="1.25" stroke-linecap="butt"/>
<line x1="621.62" y1="603.76" x2="642.06" y2="615.56" stroke="#000" stroke-width="1.25" stroke-linecap="butt"/>
<line x1="642.06" y1="639.24" x2="621.62" y2="651.04" stroke="#000" stroke-width="1.25" stroke-linecap="butt"/>
<polygon points="699.6,552.4 725.58,567.4 725.58,597.4 699.6,612.4 673.62,597.4 673.62,567.4" fill="none" stroke="#000" stroke-width="1.25" stroke-linejoin="miter"/>
<line x1="679.14" y1="570.56" x2="699.58" y2="558.76" stroke="#000" stroke-width="1.25" stroke-linecap="butt"/>
<line x1="720.08" y1="570.6" x2="720.08" y2="594.2" stroke="#000" stroke-width="1.25" stroke-linecap="butt"/>
<line x1="699.58" y1="606.04" x2="679.14" y2="594.24" stroke="#000" stroke-width="1.25" stroke-linecap="butt"/>
<line x1="647.58" y1="612.4" x2="673.62" y2="597.4" stroke="#000" stroke-width="1.25" stroke-linecap="butt"/>
<line x1="647.58" y1="642.4" x2="673.6" y2="657.4" stroke="#000" stroke-width="1.25" stroke-linecap="butt"/>
<line x1="673.6" y1="657.4" x2="689.21" y2="648.4" stroke="#000" stroke-width="1.25" stroke-linecap="butt"/>
<line x1="673.77" y1="651.3" x2="686.09" y2="644.19" stroke="#000" stroke-width="1.25" stroke-linecap="butt"/>
<line x1="699.6" y1="612.4" x2="699.6" y2="631.4" stroke="#000" stroke-width="1.25" stroke-linecap="butt"/>
<line x1="673.6" y1="657.4" x2="673.6" y2="687.4" stroke="#000" stroke-width="1.25" stroke-linecap="butt"/>
<text x="690.68" y="650.2" font-size="21" text-anchor="start" font-weight="normal" fill="#000">N</text>
<line x1="695.2" y1="659.3" x2="703.2" y2="659.3" stroke="#000" stroke-width="0.9" stroke-linecap="butt"/>
<line x1="699.2" y1="655.3" x2="699.2" y2="663.3" stroke="#000" stroke-width="0.9" stroke-linecap="butt"/>
<path d="M709.42,644.37 L709.63,645.02 L709.83,645.64 L710.05,646.21 L710.29,646.69 L710.55,647.05 L710.83,647.26 L711.15,647.33 L711.5,647.23 L711.88,647 L712.28,646.64 L712.69,646.19 L713.12,645.69 L713.55,645.17 L713.98,644.69 L714.39,644.27 L714.78,643.95 L715.15,643.76 L715.49,643.72 L715.8,643.83 L716.07,644.1 L716.32,644.5 L716.55,645.02 L716.77,645.61 L716.97,646.25 L717.18,646.88 L717.39,647.48 L717.62,647.99 L717.87,648.4 L718.14,648.67 L718.45,648.78 L718.79,648.74 L719.15,648.56 L719.55,648.24 L719.96,647.82 L720.38,647.33 L720.82,646.82 L721.24,646.31 L721.66,645.87 L722.06,645.51 L722.44,645.27 L722.79,645.18 L723.11,645.23 L723.39,645.45 L723.65,645.8 L723.89,646.28 L724.11,646.85 L724.31,647.48 L724.52,648.12 L724.73,648.73 L724.95,649.28 L725.19,649.73 L725.46,650.05 L725.75,650.22 L726.08,650.23 L726.44,650.1 L726.82,649.83 L727.23,649.44 L727.65,648.97 L728.08,648.46 L728.51,647.95" fill="none" stroke="#000" stroke-width="1.3" stroke-linecap="round" stroke-linejoin="round"/>
<text x="730.71" y="657.4" font-size="21" text-anchor="start" font-weight="normal" fill="#000">O</text>
<line x1="747.4" y1="638.3" x2="754.4" y2="638.3" stroke="#000" stroke-width="0.9" stroke-linecap="butt"/>
<text transform="translate(617.87,698.25) scale(0.9752,1)" x="0" y="0" font-size="21.5" font-weight="bold">25-2</text>
<polygon points="620.5,742.6 646.48,757.6 646.48,787.6 620.5,802.6 594.52,787.6 594.52,757.6" fill="none" stroke="#000" stroke-width="1.25" stroke-linejoin="miter"/>
<line x1="600.02" y1="784.4" x2="600.02" y2="760.8" stroke="#000" stroke-width="1.25" stroke-linecap="butt"/>
<line x1="620.52" y1="748.96" x2="640.96" y2="760.76" stroke="#000" stroke-width="1.25" stroke-linecap="butt"/>
<line x1="640.96" y1="784.44" x2="620.52" y2="796.24" stroke="#000" stroke-width="1.25" stroke-linecap="butt"/>
<polygon points="698.5,697.6 724.48,712.6 724.48,742.6 698.5,757.6 672.52,742.6 672.52,712.6" fill="none" stroke="#000" stroke-width="1.25" stroke-linejoin="miter"/>
<line x1="678.04" y1="715.76" x2="698.48" y2="703.96" stroke="#000" stroke-width="1.25" stroke-linecap="butt"/>
<line x1="718.98" y1="715.8" x2="718.98" y2="739.4" stroke="#000" stroke-width="1.25" stroke-linecap="butt"/>
<line x1="698.48" y1="751.24" x2="678.04" y2="739.44" stroke="#000" stroke-width="1.25" stroke-linecap="butt"/>
<line x1="646.48" y1="757.6" x2="672.52" y2="742.6" stroke="#000" stroke-width="1.25" stroke-linecap="butt"/>
<line x1="646.48" y1="787.6" x2="672.5" y2="802.6" stroke="#000" stroke-width="1.25" stroke-linecap="butt"/>
<line x1="672.5" y1="802.6" x2="688.11" y2="793.6" stroke="#000" stroke-width="1.25" stroke-linecap="butt"/>
<line x1="672.67" y1="796.5" x2="684.99" y2="789.39" stroke="#000" stroke-width="1.25" stroke-linecap="butt"/>
<line x1="698.5" y1="757.6" x2="698.5" y2="776.6" stroke="#000" stroke-width="1.25" stroke-linecap="butt"/>
<line x1="672.5" y1="802.6" x2="672.5" y2="832.6" stroke="#000" stroke-width="1.25" stroke-linecap="butt"/>
<text x="690.68" y="795" font-size="21" text-anchor="start" font-weight="normal" fill="#000">N</text>
<text transform="translate(619.97,847.75) scale(0.9733,1)" x="0" y="0" font-size="21.5" font-weight="bold">25-3</text>
<text x="767.84" y="372.9" font-size="21" text-anchor="start" font-weight="normal" fill="#000">2HO</text>
<line x1="811.2" y1="354.1" x2="819.5" y2="354.1" stroke="#000" stroke-width="0.9" stroke-linecap="butt"/>
<text x="852.98" y="355.1" font-size="21" text-anchor="start" font-weight="normal" fill="#000">H<tspan font-size="15.6" dy="5">2</tspan></text>
<text x="857.64" y="426.7" font-size="21" text-anchor="start" font-weight="normal" fill="#000">2e</text>
<line x1="878.8" y1="409.5" x2="886.5" y2="409.5" stroke="#000" stroke-width="0.9" stroke-linecap="butt"/>
<line x1="888.2" y1="432.6" x2="859.9" y2="432.6" stroke="#3a3a3a" stroke-width="0.9" stroke-linecap="butt"/>
<polygon points="852,432.6 862,429.3 860.4,432.6 862,435.9" fill="#000"/>
<text x="757.74" y="495.3" font-size="21" text-anchor="start" font-weight="normal" fill="#000">2H<tspan font-size="15.6" dy="5">2</tspan><tspan dy="-5">O</tspan></text>
<path d="M819.5,489.47 A66,66 0 0 0 826.27,380.31" fill="none" stroke="#3a3a3a" stroke-width="0.9"/>
<polygon points="819.4,375.67 829.79,378.77 826.45,380.59 825.9,384.35" fill="#000"/>
<path d="M847.5,410 Q845,378 851,364" fill="none" stroke="#3a3a3a" stroke-width="0.9"/>
<polygon points="854,358.9 852.88,367.84 851.09,364.71 847.52,365.16" fill="#000"/>
<text x="804.08" y="584.4" font-size="21" text-anchor="start" font-weight="normal" fill="#000">H<tspan font-size="15.6" dy="5">2</tspan><tspan dy="-5">O</tspan></text>
<path d="M760.83,606.3 A90.8,90.8 0 0 1 769.12,787.46" fill="none" stroke="#3a3a3a" stroke-width="0.9"/>
<polygon points="760.83,787.9 770.9,783.85 769.42,787.35 771.33,790.64" fill="#000"/>
<path d="M824.65,594.8 C815,600 811.6,612 815.3,625 Q819.5,630.3 825.5,634.8" fill="none" stroke="#3a3a3a" stroke-width="0.9"/>
<path d="M835.6,749.6 Q830,756.2 824.8,762 C820.6,768 820.2,781.5 829.3,792" fill="none" stroke="#3a3a3a" stroke-width="0.9"/>
<polygon points="836.4,797.75 826.66,793.76 830.02,792.29 830.95,788.74" fill="#000"/>
<line x1="887" y1="697" x2="859.1" y2="697" stroke="#3a3a3a" stroke-width="0.9" stroke-linecap="butt"/>
<polygon points="851.2,697 861.2,693.7 859.6,697 861.2,700.3" fill="#000"/>
<text x="857.44" y="690.8" font-size="21" text-anchor="start" font-weight="normal" fill="#000">2e</text>
<line x1="879" y1="671.3" x2="887" y2="671.3" stroke="#000" stroke-width="0.9" stroke-linecap="butt"/>
<text x="815.24" y="823.4" font-size="21" text-anchor="start" font-weight="normal" fill="#000">2HO</text>
<line x1="858.5" y1="804.2" x2="866.5" y2="804.2" stroke="#000" stroke-width="0.9" stroke-linecap="butt"/>
</svg></div>
</body></html>
